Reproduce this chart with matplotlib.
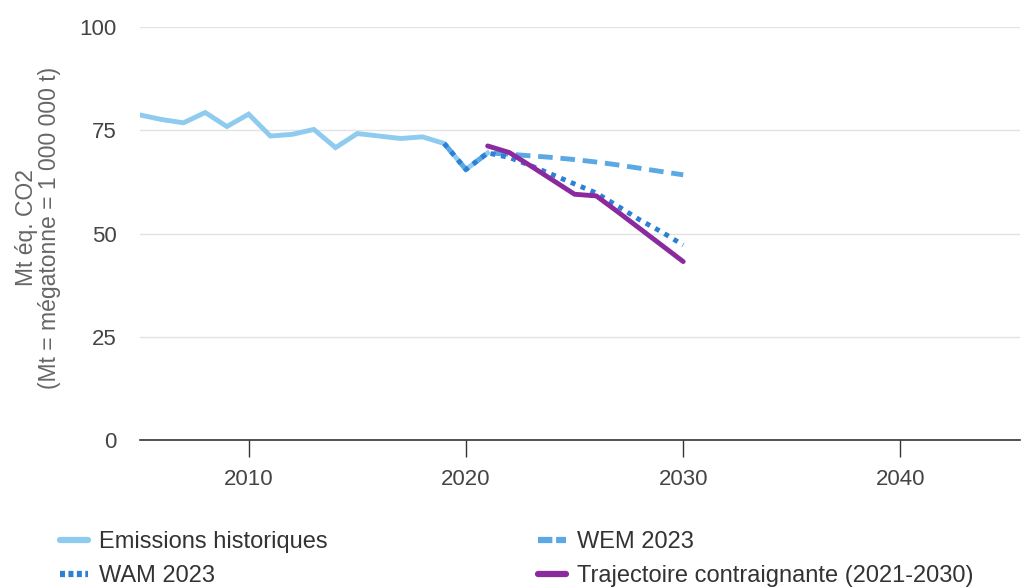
import matplotlib
matplotlib.use("Agg")
import matplotlib.pyplot as plt

plt.rcParams['font.family'] = ['Liberation Sans', 'DejaVu Sans']

hist_years = list(range(2005, 2022))
hist_values = [78.7, 77.6, 76.8, 79.3, 75.9, 78.9, 73.6, 74.0, 75.2, 70.8, 74.2, 73.6, 73.0, 73.4, 71.8, 65.5, 69.5]

proj_years = [2019, 2020, 2021, 2022, 2023, 2024, 2025, 2026, 2027, 2028, 2029, 2030]
wem_values = [71.8, 65.5, 69.5, 69.2, 68.8, 68.4, 67.9, 67.3, 66.6, 65.8, 65.0, 64.2]
wam_values = [71.8, 65.5, 69.5, 68.4, 66.4, 64.2, 62.0, 59.8, 56.6, 53.3, 50.4, 47.2]

traj_years = list(range(2021, 2031))
traj_values = [71.2, 69.6, 66.3, 62.9, 59.5, 59.1, 55.2, 51.2, 47.2, 43.2]

y_ticks = [0, 25, 50, 75, 100]
x_ticks = [2010, 2020, 2030, 2040]

fig = plt.figure(figsize=(10.22, 5.88), dpi=100)
ax = fig.add_axes([140/1022, 1-440/588, 880/1022, 413/588])

c_hist = '#8ecbee'
c_wem = '#5aa8e4'
c_wam = '#2e7fd6'
c_traj = '#8b2a9e'

ax.plot(hist_years, hist_values, color=c_hist, lw=3.5, solid_joinstyle='miter', label='Emissions historiques', zorder=3)
ax.plot(proj_years, wem_values, color=c_wem, lw=3.5, dashes=(3, 1.6), label='WEM 2023', zorder=4)
ax.plot(proj_years, wam_values, color=c_wam, lw=3.5, dashes=(1, 1.2), label='WAM 2023', zorder=5)
ax.plot(traj_years, traj_values, color=c_traj, lw=3.5, solid_capstyle='round', label='Trajectoire contraignante (2021-2030)', zorder=6)

ax.set_xlim(2005, 2045.5)
ax.set_ylim(0, 100)
ax.set_yticks(y_ticks)
ax.set_xticks(x_ticks)
ax.grid(axis='y', color='#e3e3e3', lw=1)
ax.set_axisbelow(True)
for s in ['top', 'right', 'left']:
    ax.spines[s].set_visible(False)
ax.spines['bottom'].set_color('#333333')
ax.spines['bottom'].set_linewidth(1.2)
ax.spines['bottom'].set_zorder(2)
ax.tick_params(axis='x', length=12, width=1, color='#333333', labelsize=16, labelcolor='#444444', pad=9)
ax.tick_params(axis='y', length=0, labelsize=16, labelcolor='#444444', pad=17)

fig.text(38/1022, 1-228/588, 'Mt éq. CO2\n(Mt = mégatonne = 1 000 000 t)', rotation=90,
         ha='center', va='center', fontsize=16.5, color='#666666', linespacing=1.05)

handles, labels = ax.get_legend_handles_labels()
order = [0, 2, 1, 3]
leg = fig.legend([handles[i] for i in order], [labels[i] for i in order], ncol=2,
                 loc='upper left', bbox_to_anchor=(60/1022, 1-531/588), frameon=False,
                 fontsize=17, handlelength=1.2, handletextpad=0.45, columnspacing=8.9,
                 labelspacing=0.5, borderaxespad=0, borderpad=0)
for t in leg.get_texts():
    t.set_color('#333333')
lh = leg.legend_handles
for h in lh:
    h.set_linewidth(4.5)
# order in legend: hist, WAM, WEM, traj
lh[1].set_dashes((0.8, 0.55))
lh[2].set_dashes((2.3, 0.6))
lh[3].set_solid_capstyle('round')
lh[0].set_solid_capstyle('round')

fig.savefig('out.png', dpi=100)
